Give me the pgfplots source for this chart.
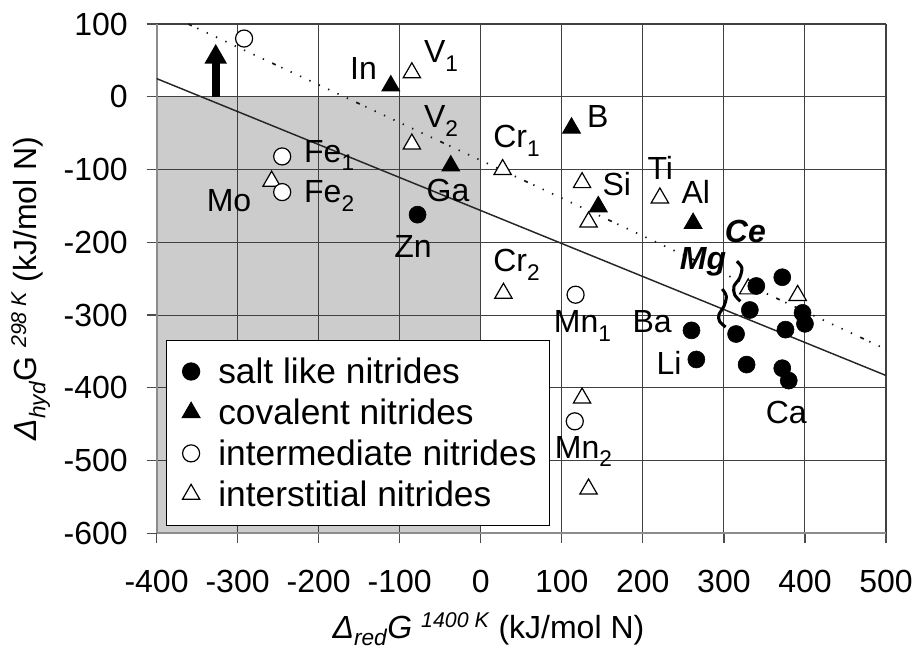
\documentclass[border=0pt]{standalone}
\usepackage{fontspec}
\setmainfont{Liberation Sans}
\usepackage{pgfplots}
\pgfplotsset{compat=1.18}
\usetikzlibrary{arrows.meta}
\newcommand{\lab}{\fontsize{24}{29}\selectfont}
\newcommand{\sub}[1]{\raisebox{-6.5pt}{\fontsize{17}{17}\selectfont #1}}
\newcommand{\xsub}[1]{\raisebox{-5pt}{\fontsize{17}{17}\selectfont #1}}
\newcommand{\sups}[1]{\raisebox{8pt}{\fontsize{16}{16}\selectfont #1}}
\begin{document}
\begin{tikzpicture}
\begin{axis}[
  set layers,
  scale only axis,
  width=547pt, height=382pt,
  xmin=-400, xmax=500, ymin=-600, ymax=100,
  xtick={-400,-300,...,500},
  ytick={-600,-500,...,100},
  axis lines=left,
  axis line style={-, draw=black!45, line width=1.5pt},
  tick align=outside,
  major tick length=7.5pt,
  tick style={draw=black!70, line width=0.9pt},
  grid=major,
  major grid style={draw=black!75, line width=0.8pt},
  tick label style={font=\lab},
  /pgf/number format/assume math mode=true,
  xticklabel style={inner sep=0pt, anchor=north, yshift=-19.9pt},
  yticklabel style={inner sep=0pt, anchor=east, xshift=-13.9pt},
  xlabel={\textit{Δ}\xsub{\textit{red}}\textit{G} \sups{\textit{1400 K}} (kJ/mol N)},
  ylabel={\textit{Δ}\sub{\textit{hyd}}G \sups{\textit{298 K}} (kJ/mol N)},
  xlabel style={font=\lab, at={(axis description cs:0.455,-0.206)}, anchor=base, inner sep=0pt},
  ylabel style={font=\lab, at={(axis description cs:-0.1642,0.481)}, anchor=base, inner sep=0pt},
  legend style={at={(axis description cs:0.013,0.38)}, anchor=north west,
    draw=black, line width=0.8pt, fill=white,
    font=\fontsize{26.5}{30}\selectfont,
    inner xsep=10pt, inner ysep=13pt, row sep=10pt,
    nodes={inner sep=0pt}},
  legend cell align=left,
]
% shaded region
\addplot[fill=black!20, draw=none, on layer=axis background, forget plot]
  coordinates {(-400,-600) (0,-600) (0,0) (-400,0)} -- cycle;
% legend images (order of legend)
\addlegendimage{legend image code/.code={\path (-8pt,0pt) (20pt,0pt); \draw[mark=*, mark size=6.4pt, mark options={draw=black, fill=black, line width=0.9pt}] plot coordinates {(0pt,0pt)};}}
\addlegendentry{salt like nitrides}
\addlegendimage{legend image code/.code={\path (-8pt,0pt) (20pt,0pt); \draw[mark=triangle*, mark size=7.5pt, mark options={draw=black, fill=black, line width=0.9pt}] plot coordinates {(0pt,0pt)};}}
\addlegendentry{covalent nitrides}
\addlegendimage{legend image code/.code={\path (-8pt,0pt) (20pt,0pt); \draw[mark=*, mark size=6.4pt, mark options={draw=black, fill=white, line width=0.9pt}] plot coordinates {(0pt,0pt)};}}
\addlegendentry{intermediate nitrides}
\addlegendimage{legend image code/.code={\path (-8pt,0pt) (20pt,0pt); \draw[mark=triangle*, mark size=7.5pt, mark options={draw=black, fill=white, line width=0.9pt}] plot coordinates {(0pt,0pt)};}}
\addlegendentry{interstitial nitrides}
% trend lines
\addplot[black!85, line width=1.1pt, forget plot] coordinates {(-400,25) (500,-383)};
\addplot[black!90, line width=1.3pt, forget plot,
  dash pattern=on 3pt off 4.5pt on 1pt off 6.75pt on 1pt off 6.75pt on 1pt off 6.75pt on 1pt off 6.75pt on 1pt off 6.75pt on 1pt off 6.75pt on 1pt off 6.75pt on 1pt off 6.75pt]
  coordinates {(-361,100) (500,-347)};
% arrow
\addplot[black, line width=5.75pt, -{Triangle[width=15.75pt, length=15pt]}, forget plot]
  coordinates {(-327,0) (-327,73)};
% braces
\addplot[black, line width=2.3pt, smooth, forget plot] coordinates
  {(316,-226) (322.2,-235.2) (319.4,-249) (312.4,-260.5) (313.2,-271.9) (320.2,-281.1)};
\addplot[black, line width=2.3pt, smooth, forget plot] coordinates
  {(298,-264.1) (303,-274.3) (300,-288) (293.8,-299.5) (294.7,-308.7) (302.1,-316.4)};
% covalent
\addplot[only marks, mark=triangle*, mark size=7.5pt, mark options={draw=black, fill=black, line width=0.9pt}, forget plot]
  coordinates {(-111,15) (-37,-95) (112,-43) (145,-151) (262,-174)};
% interstitial
\addplot[only marks, mark=triangle*, mark size=7.5pt, mark options={draw=black, fill=white, line width=0.9pt}, forget plot]
  coordinates {(-258,-116) (-85,33) (-85,-65) (27,-100) (28,-270) (125,-118) (133,-172)
   (221,-139) (330,-264) (391,-273) (125,-414) (133,-539)};
% intermediate
\addplot[only marks, mark=*, mark size=6.4pt, mark options={draw=black, fill=white, line width=0.9pt}, forget plot]
  coordinates {(-292,80) (-245,-82) (-245,-131) (117,-272) (116,-446)};
% salt like
\addplot[only marks, mark=*, mark size=6.4pt, mark options={draw=black, fill=black}, forget plot]
  coordinates {(-78,-162) (340,-260) (372,-248) (332,-293) (397,-297) (400,-312) (376,-320)
   (315,-326) (260,-321) (266,-361) (328,-368) (372,-373) (380,-390)};
% labels
\begin{scope}[every node/.style={inner sep=0pt, anchor=base west, font=\lab}]
\node at (axis cs:-161.5,23.8) {In};
\node at (axis cs:-70.3,46.8) {V\sub{1}};
\node at (axis cs:-70.3,-42.6) {V\sub{2}};
\node at (axis cs:-218.2,-90) {Fe\sub{1}};
\node at (axis cs:-218.2,-145.8) {Fe\sub{2}};
\node at (axis cs:-338.3,-157.4) {Mo};
\node at (axis cs:-67,-144.5) {Ga};
\node at (axis cs:-107,-221.5) {Zn};
\node at (axis cs:15.2,-70) {Cr\sub{1}};
\node at (axis cs:15.2,-239.9) {Cr\sub{2}};
\node at (axis cs:131,-42.7) {B};
\node at (axis cs:150,-135.8) {Si};
\node at (axis cs:205.5,-113.8) {Ti};
\node at (axis cs:247.5,-146.8) {Al};
\node at (axis cs:300.9,-200.8) {\textbf{\textit{Ce}}};
\node at (axis cs:245.4,-237.6) {\textbf{\textit{Mg}}};
\node at (axis cs:90,-324.6) {Mn\sub{1}};
\node at (axis cs:187,-324.6) {Ba};
\node at (axis cs:216.6,-382) {Li};
\node at (axis cs:351.4,-448.4) {Ca};
\node at (axis cs:91.2,-496.6) {Mn\sub{2}};
\end{scope}
\end{axis}
\pgfresetboundingbox
\path[overlay] (current axis.south west) ++(-117.4pt,-88.9pt) coordinate (bbA);
\path[overlay] (current axis.north east) ++(24pt,18pt) coordinate (bbB);
\useasboundingbox (bbA) rectangle (bbB);
\end{tikzpicture}
\end{document}
